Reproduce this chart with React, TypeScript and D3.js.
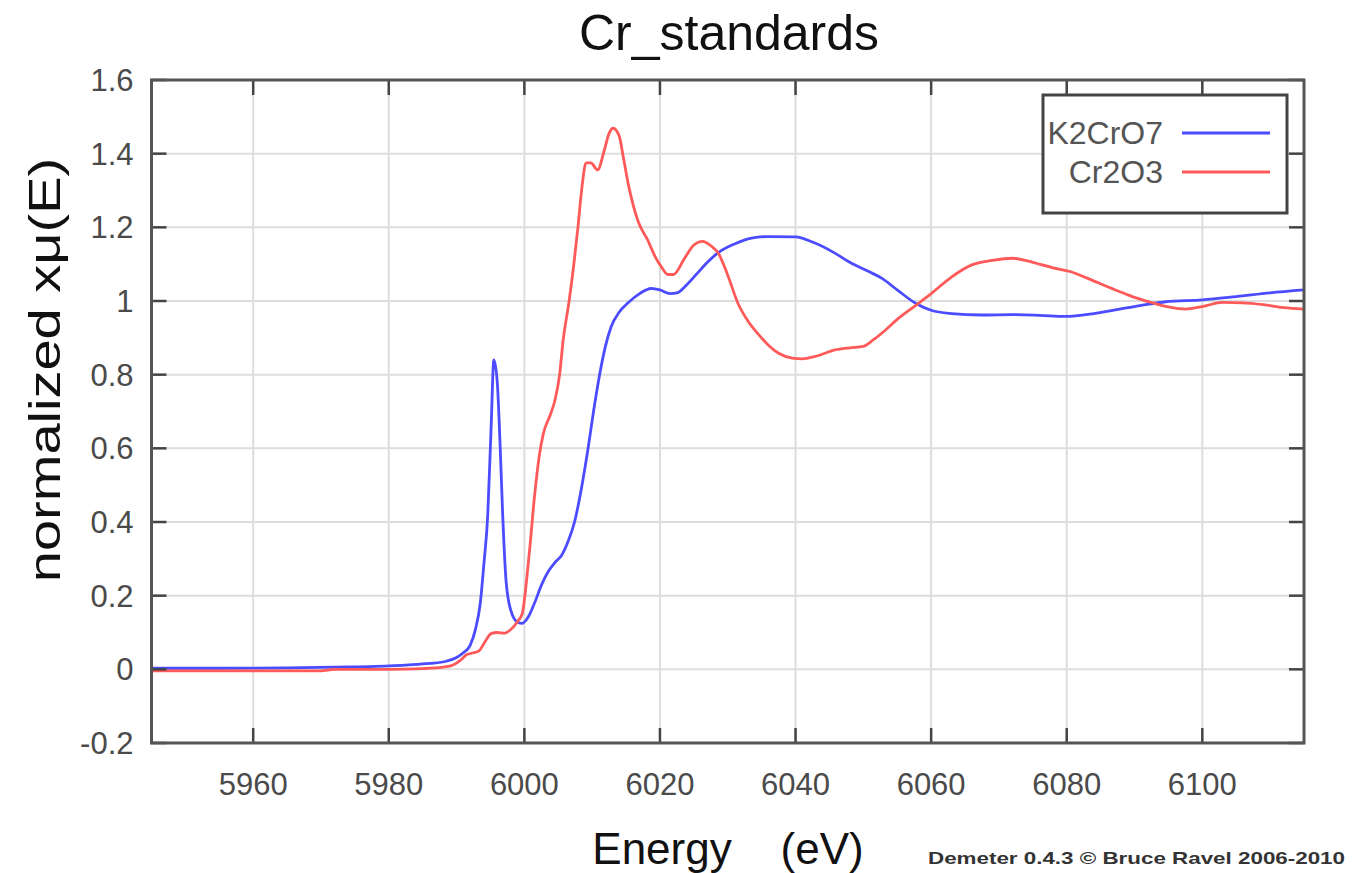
import { useEffect, useRef } from 'react';
import * as d3 from 'd3';

// K2CrO7 (blue)
const k2cro7Energy = [
  5945, 5955, 5965, 5972, 5978, 5983, 5986, 5988.5, 5990, 5991, 5992, 5992.8, 5993.5, 5994, 5994.6,
  5995.1, 5995.5, 5996, 5996.4, 5996.8, 5997.3, 5998, 5999, 5999.7, 6000.5, 6001.5, 6002.5, 6003.5,
  6004.5, 6005.5, 6006.5, 6007.4, 6008.5, 6009.4, 6010.2, 6011.1, 6012, 6012.8, 6014, 6015.3, 6017,
  6018.7, 6020, 6021.5, 6022.5, 6024, 6025.5, 6027, 6028.5, 6031, 6033.5, 6036, 6040, 6042.5, 6045.8,
  6048, 6050.8, 6052.7, 6055, 6057.7, 6060, 6063, 6067.5, 6072, 6076, 6079.8, 6084, 6087.2, 6091,
  6094.6, 6100, 6105, 6110, 6115,
];
const k2cro7Mu = [
  0.003, 0.003, 0.004, 0.006, 0.008, 0.012, 0.016, 0.022, 0.032, 0.045, 0.065, 0.11, 0.18, 0.28, 0.42,
  0.66, 0.84, 0.78, 0.62, 0.42, 0.24, 0.16, 0.128, 0.125, 0.14, 0.18, 0.228, 0.265,
  0.29, 0.31, 0.35, 0.4, 0.5, 0.6, 0.7, 0.8, 0.88, 0.93, 0.97, 0.995, 1.02,
  1.034, 1.03, 1.02, 1.022, 1.045, 1.075, 1.105, 1.13, 1.155, 1.171, 1.175, 1.174, 1.16, 1.13,
  1.105, 1.08, 1.062, 1.03, 0.994, 0.975, 0.966, 0.962, 0.963, 0.961, 0.958, 0.966, 0.976, 0.988,
  0.998, 1.003, 1.012, 1.022, 1.03,
];

// Cr2O3 (red)
const cr2o3Energy = [
  5945, 5955, 5965, 5970, 5972, 5975, 5980, 5985, 5988, 5989.5, 5990.6, 5991.5, 5992.5, 5993.3, 5994.2,
  5995.1, 5996, 5997, 5998, 5999, 5999.7, 6000.2, 6000.8, 6001.5, 6002.2, 6002.8, 6003.8, 6004.5,
  6005.2, 6005.7, 6006.6, 6007.3, 6007.9, 6008.5, 6009.1, 6009.8, 6010.8, 6011.8, 6012.5, 6013.1,
  6014, 6014.6, 6015.3, 6016.8, 6018.2, 6019.3, 6020.2, 6021.2, 6022, 6023.6, 6025, 6026.3, 6027.5,
  6028.6, 6030, 6031.5, 6033, 6034.5, 6036, 6037.5, 6039.5, 6041, 6043, 6045.8, 6048, 6050, 6051.5,
  6053.2, 6055, 6057.5, 6060, 6063, 6066, 6069, 6072, 6075, 6078, 6080.5, 6083, 6087.2, 6090, 6092.5,
  6095, 6097.5, 6100, 6103, 6106, 6109, 6112, 6115,
];
const cr2o3Mu = [
  -0.004, -0.004, -0.004, -0.004, 0.0, 0.0, 0.0, 0.002, 0.006, 0.012, 0.025, 0.04, 0.045, 0.05, 0.075,
  0.097, 0.1, 0.098, 0.108, 0.13, 0.152, 0.22, 0.33, 0.47, 0.58, 0.64, 0.69, 0.73,
  0.8, 0.89, 1.0, 1.1, 1.2, 1.31, 1.375, 1.375, 1.356, 1.41, 1.455, 1.469,
  1.447, 1.39, 1.32, 1.215, 1.165, 1.12, 1.093, 1.072, 1.072, 1.115, 1.152, 1.162, 1.15,
  1.13, 1.07, 0.994, 0.945, 0.91, 0.88, 0.858, 0.845, 0.843, 0.85, 0.867, 0.873, 0.877, 0.895,
  0.92, 0.95, 0.985, 1.02, 1.065, 1.098, 1.11, 1.116, 1.105, 1.09, 1.08, 1.062, 1.03, 1.01, 0.996,
  0.984, 0.978, 0.985, 0.996, 0.995, 0.99, 0.982, 0.978,
];

const xTicks = [5960, 5980, 6000, 6020, 6040, 6060, 6080, 6100];
const yTicks = [-0.2, 0, 0.2, 0.4, 0.6, 0.8, 1, 1.2, 1.4, 1.6];

const seriesNames = ['K2CrO7', 'Cr2O3'];
const seriesColors = ['#4b4bff', '#ff5a5a'];

export default function App() {
  const svgRef = useRef<SVGSVGElement>(null);

  useEffect(() => {
    if (!svgRef.current) return;
    const W = 1371, H = 873;
    const margin = { top: 80, right: 67, bottom: 130, left: 151.5 };
    const width = W - margin.left - margin.right;
    const height = H - margin.top - margin.bottom;
    const font = "'Liberation Sans', Arial, sans-serif";

    const root = d3.select(svgRef.current);
    root.selectAll('*').remove();
    root.attr('width', W).attr('height', H);
    root.append('rect').attr('width', W).attr('height', H).attr('fill', '#fff');

    const x = d3.scaleLinear().domain([5945, 6115]).range([0, width]);
    const y = d3.scaleLinear().domain([-0.2, 1.6]).range([height, 0]);

    const g = root.append('g').attr('transform', `translate(${margin.left},${margin.top})`);

    // grid
    g.append('g').selectAll('line').data(xTicks).enter().append('line')
      .attr('x1', d => x(d)).attr('x2', d => x(d)).attr('y1', 0).attr('y2', height)
      .attr('stroke', '#dddddd').attr('stroke-width', 2);
    g.append('g').selectAll('line').data(yTicks).enter().append('line')
      .attr('x1', 0).attr('x2', width).attr('y1', d => y(d)).attr('y2', d => y(d))
      .attr('stroke', '#dddddd').attr('stroke-width', 2);

    // curves
    g.append('clipPath').attr('id', 'plot-clip').append('rect')
      .attr('width', width).attr('height', height);
    const line = d3.line<[number, number]>()
      .x(d => x(d[0])).y(d => y(d[1]))
      .curve(d3.curveMonotoneX);
    const series = [
      k2cro7Energy.map((e, i) => [e, k2cro7Mu[i]] as [number, number]),
      cr2o3Energy.map((e, i) => [e, cr2o3Mu[i]] as [number, number]),
    ];
    const curves = g.append('g').attr('clip-path', 'url(#plot-clip)');
    series.forEach((s, i) => {
      curves.append('path').attr('d', line(s) as string)
        .attr('fill', 'none').attr('stroke', seriesColors[i])
        .attr('stroke-width', 2.8).attr('stroke-linejoin', 'round');
    });

    // ticks (inward, all four sides)
    const tickLen = 15;
    const tickColor = '#444';
    xTicks.forEach(t => {
      g.append('line').attr('x1', x(t)).attr('x2', x(t)).attr('y1', height).attr('y2', height - tickLen)
        .attr('stroke', tickColor).attr('stroke-width', 2.5);
      g.append('line').attr('x1', x(t)).attr('x2', x(t)).attr('y1', 0).attr('y2', tickLen)
        .attr('stroke', tickColor).attr('stroke-width', 2.5);
    });
    yTicks.forEach(t => {
      g.append('line').attr('x1', 0).attr('x2', tickLen).attr('y1', y(t)).attr('y2', y(t))
        .attr('stroke', tickColor).attr('stroke-width', 2.5);
      g.append('line').attr('x1', width).attr('x2', width - tickLen).attr('y1', y(t)).attr('y2', y(t))
        .attr('stroke', tickColor).attr('stroke-width', 2.5);
    });

    // frame
    g.append('rect').attr('width', width).attr('height', height)
      .attr('fill', 'none').attr('stroke', '#555').attr('stroke-width', 3);

    // tick labels
    g.append('g').selectAll('text').data(xTicks).enter().append('text')
      .attr('x', d => x(d)).attr('y', height + 52)
      .attr('text-anchor', 'middle').attr('font-family', font).attr('font-size', 31)
      .attr('fill', '#4a4a4a').text(d => String(d));
    g.append('g').selectAll('text').data(yTicks).enter().append('text')
      .attr('x', -18).attr('y', d => y(d) + 11)
      .attr('text-anchor', 'end').attr('font-family', font).attr('font-size', 31)
      .attr('fill', '#4a4a4a').text(d => String(d));

    // legend
    const legend = g.append('g').attr('transform', `translate(${1043 - margin.left},${95 - margin.top})`);
    legend.append('rect').attr('width', 244).attr('height', 118)
      .attr('fill', '#fff').attr('stroke', '#444').attr('stroke-width', 3);
    seriesNames.forEach((name, i) => {
      const ly = 38 + i * 39;
      legend.append('text').attr('x', 120).attr('y', ly + 11)
        .attr('text-anchor', 'end').attr('font-family', font).attr('font-size', 32)
        .attr('fill', '#555').text(name);
      legend.append('line').attr('x1', 139).attr('x2', 227).attr('y1', ly).attr('y2', ly)
        .attr('stroke', seriesColors[i]).attr('stroke-width', 3);
    });

    // title and axis labels
    root.append('text').attr('x', 729).attr('y', 50)
      .attr('text-anchor', 'middle').attr('font-family', font).attr('font-size', 50)
      .attr('fill', '#111').text('Cr_standards');
    root.append('text')
      .attr('transform', `translate(60,370) rotate(-90) scale(1,0.8)`)
      .attr('text-anchor', 'middle').attr('font-family', font).attr('font-size', 56)
      .attr('fill', '#111').text('normalized xμ(E)');
    root.append('text').attr('x', 728).attr('y', 864)
      .attr('text-anchor', 'middle').attr('font-family', font).attr('font-size', 44)
      .attr('fill', '#111').style('white-space', 'pre').text('Energy    (eV)');
    root.append('text').attr('x', 928).attr('y', 864)
      .attr('font-family', font).attr('font-size', 17).attr('font-weight', 'bold')
      .attr('fill', '#333').attr('textLength', 417).attr('lengthAdjust', 'spacingAndGlyphs')
      .text('Demeter 0.4.3 © Bruce Ravel 2006-2010');
  }, []);

  return <svg ref={svgRef} style={{ position: 'absolute', left: 0, top: 0 }}></svg>;
}
